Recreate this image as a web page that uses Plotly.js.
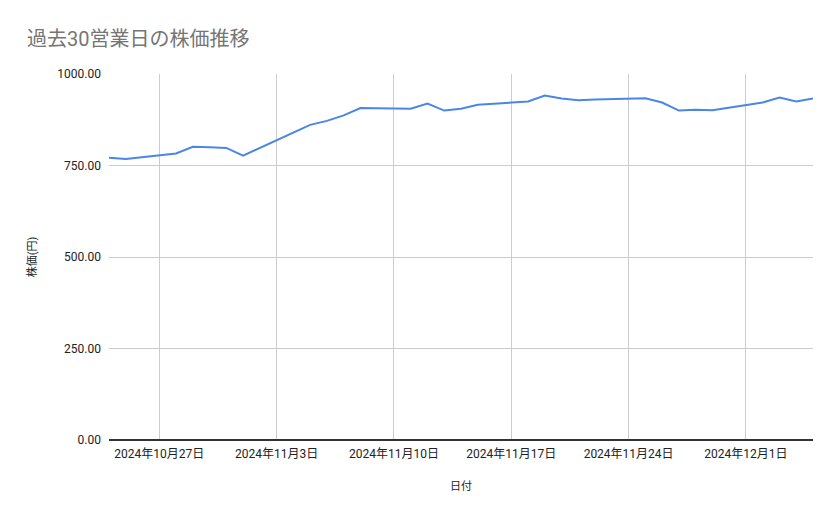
<!DOCTYPE html>
<html>
<head>
<meta charset="utf-8">
<script src="https://cdn.plot.ly/plotly-3.0.1.min.js"></script>
<style>
  html, body { margin: 0; padding: 0; background: #fff; }
  #chart { width: 839px; height: 519px; }
</style>
</head>
<body>
<div id="chart"></div>
<script>
// 営業日ごとの終値（チャートから読み取った値）
var dates = [
    '2024-10-24', '2024-10-25', '2024-10-28', '2024-10-29', '2024-10-30', '2024-10-31',
    '2024-11-01', '2024-11-04', '2024-11-05', '2024-11-06', '2024-11-07', '2024-11-08',
    '2024-11-11', '2024-11-12', '2024-11-13', '2024-11-14', '2024-11-15',
    '2024-11-18', '2024-11-19', '2024-11-20', '2024-11-21', '2024-11-22',
    '2024-11-25', '2024-11-26', '2024-11-27', '2024-11-28', '2024-11-29',
    '2024-12-02', '2024-12-03', '2024-12-04', '2024-12-05'
];
var prices = [
    771, 768, 783, 801, 800, 798,
    777, 841, 861, 872, 887, 907,
    905, 919, 900, 905, 916,
    925, 941, 933, 928, 930,
    934, 922, 900, 902, 901,
    922, 936, 925, 933
];
var tickDates = ['2024-10-27', '2024-11-03', '2024-11-10', '2024-11-17', '2024-11-24', '2024-12-01'];
var tickLabels = ['2024年10月27日', '2024年11月3日', '2024年11月10日', '2024年11月17日', '2024年11月24日', '2024年12月1日'];
var yTicks = [0, 250, 500, 750, 1000];

var fontFamily = "Roboto, 'Noto Sans CJK JP', sans-serif";

var data = [{
    x: dates,
    y: prices,
    type: 'scatter',
    mode: 'lines',
    name: '株価',
    line: { color: '#4a86e8', width: 2 },
    hoverinfo: 'x+y'
}];

var layout = {
    width: 839,
    height: 519,
    paper_bgcolor: '#ffffff',
    plot_bgcolor: '#ffffff',
    margin: { t: 74, r: 26, b: 79, l: 109 },
    showlegend: false,
    font: { family: fontFamily, size: 12, color: '#222222' },
    title: {
        text: '過去30営業日の株価推移',
        font: { family: fontFamily, size: 20, color: '#757575' },
        x: 27 / 839, xref: 'container', xanchor: 'left',
        y: 1 - 39 / 519, yref: 'container', yanchor: 'middle'
    },
    xaxis: {
        type: 'date',
        range: ['2024-10-24', '2024-12-05'],
        tickvals: tickDates,
        ticktext: tickLabels,
        showgrid: true,
        gridcolor: '#cccccc',
        gridwidth: 1,
        zeroline: false,
        showline: false,
        ticks: '',
        ticklabelstandoff: 5,
        tickfont: { family: fontFamily, size: 12, color: '#222222' },
        title: {
            text: '日付',
            font: { family: fontFamily, size: 11, color: '#222222' },
            standoff: 22
        },
        fixedrange: true
    },
    yaxis: {
        range: [0, 1000],
        tickvals: yTicks,
        tickformat: '.2f',
        showgrid: true,
        gridcolor: '#cccccc',
        gridwidth: 1,
        zeroline: true,
        zerolinecolor: '#333333',
        zerolinewidth: 1.5,
        showline: false,
        ticks: '',
        ticklabelstandoff: 7,
        tickfont: { family: fontFamily, size: 12, color: '#222222' },
        title: {
            text: '株価(円)',
            font: { family: fontFamily, size: 11, color: '#222222' },
            standoff: 18
        },
        fixedrange: true
    }
};

Plotly.newPlot('chart', data, layout, { displayModeBar: false });
</script>
</body>
</html>
